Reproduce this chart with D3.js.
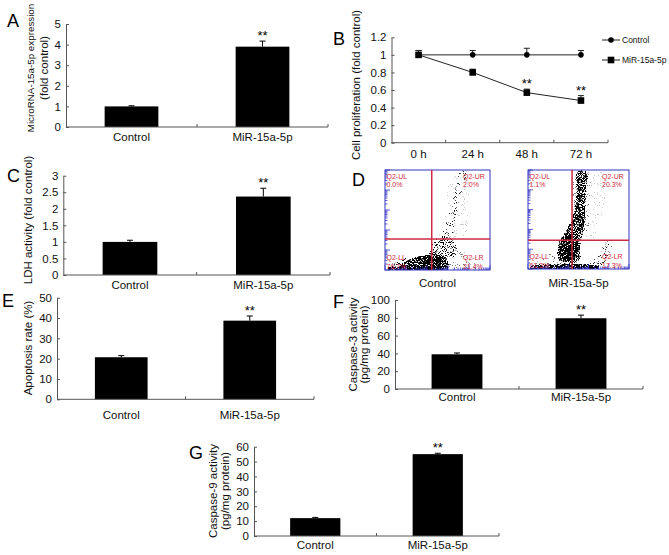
<!DOCTYPE html>
<html>
<head>
<meta charset="utf-8">
<script src="https://cdn.jsdelivr.net/npm/d3@7"></script>
<style>
  body { margin: 0; background: #fff; }
  svg { display: block; font-family: "Liberation Sans", Arial, Helvetica, sans-serif; }
</style>
</head>
<body>
<svg id="fig" width="669" height="555"></svg>
<script>
/*
*  DATA
*/
const groups = ['Control', 'MiR-15a-5p']
const sigBars = ['', '**']

const mirExpr = [1.0, 3.9], mirExprErr = [0.03, 0.27]
const ldh = [1.0, 2.37], ldhErr = [0.05, 0.25]
const apoptosis = [20.7, 38.7], apoptosisErr = [0.8, 2.3]
const casp3 = [39, 79.5], casp3Err = [1.5, 3.5]
const casp9 = [12, 55], casp9Err = [0.5, 0.6]

const timePoints = ['0 h', '24 h', '48 h', '72 h']
const prolifControl = [1, 1, 1, 1], prolifControlErr = [0.05, 0.05, 0.075, 0.05]
const prolifMiR = [1, 0.8, 0.57, 0.48], prolifMiRErr = [0.05, 0.037, 0.04, 0.056]
const sigProlif = ['', '', '**', '**']

const ticksA = [0, 1, 2, 3, 4, 5]
const ticksB = [0, 0.2, 0.4, 0.6, 0.8, 1, 1.2]
const ticksC = [0, 0.5, 1, 1.5, 2, 2.5, 3]
const ticksE = [0, 10, 20, 30, 40, 50]
const ticksF = [0, 20, 40, 60, 80, 100]
const ticksG = [0, 10, 20, 30, 40, 50, 60]

// flow cytometry: quadrant names, percentages, gate positions (fraction of plot), dot clouds
const quadNames = ['Q2-UL', 'Q2-UR', 'Q2-LL', 'Q2-LR']
const flowControlPct = ['0.0%', '2.0%', '76.7%', '21.4%']
const flowMiRPct = ['1.1%', '20.3%', '61.3%', '17.3%']
const flowGates = [[0.445, 0.31], [0.436, 0.29]]
const flowCloudsControl = [
  {a: 0.04, pts: [[0.52,0.25],[0.58,0.6],[0.63,0.95],[0.78,0.99],[0.8,0.6],[0.74,0.3]]},
  {a: 0.14, pts: [[0.53,0.28],[0.6,0.55],[0.67,0.8],[0.71,0.98],[0.77,0.98],[0.73,0.78],[0.67,0.52],[0.62,0.28]]},
  {a: 0.1, pts: [[0.6,0.02],[0.62,0.16],[0.72,0.2],[0.82,0.1],[0.88,0.02]]},
  {a: 0.35, pts: [[0.42,0.12],[0.46,0.28],[0.56,0.34],[0.65,0.3],[0.68,0.15]]},
  {a: 0.3, pts: [[0.03,0.02],[0.1,0.09],[0.22,0.12],[0.25,0.02]]},
  {a: 0.8, pts: [[0.14,0.02],[0.22,0.1],[0.35,0.14],[0.48,0.16],[0.58,0.12],[0.6,0.02]]},
  {a: 0.9, pts: [[0.3,0.02],[0.36,0.09],[0.48,0.11],[0.53,0.05],[0.5,0.01]]},
  {a: 0.7, pts: [[0.02,0],[0.6,0],[0.6,0.02],[0.02,0.02]]}
]
const flowCloudsMiR = [
  {a: 0.04, pts: [[0.55,0.35],[0.6,0.95],[0.76,0.97],[0.74,0.5],[0.64,0.3]]},
  {a: 0.18, pts: [[0.58,0.02],[0.66,0.1],[0.73,0.22],[0.8,0.3],[0.83,0.22],[0.77,0.08],[0.7,0.02]]},
  {a: 0.12, pts: [[0.05,0.02],[0.2,0.15],[0.3,0.1],[0.3,0.02]]},
  {a: 0.1, pts: [[0.42,0.35],[0.44,0.6],[0.46,0.98],[0.61,0.98],[0.6,0.6],[0.58,0.35]]},
  {a: 0.7, pts: [[0.31,0.08],[0.31,0.28],[0.38,0.39],[0.45,0.55],[0.48,0.75],[0.49,0.98],[0.58,0.98],[0.57,0.75],[0.565,0.55],[0.55,0.39],[0.52,0.28],[0.5,0.08]]},
  {a: 0.9, pts: [[0.33,0.12],[0.33,0.27],[0.4,0.34],[0.48,0.32],[0.49,0.18],[0.45,0.1]]},
  {a: 0.85, pts: [[0.02,0],[0.7,0],[0.7,0.025],[0.02,0.025]]}
]

// small helper so attribute objects can be set in one call
d3.selection.prototype.attrs = function(obj){
  for(let k in obj) this.attr(k, obj[k])
  return this
}

/*
*  RUN
*/
const svg = d3.select('#fig')
const axisColor = '#555'
const fmt = d3.format('~g')

// speckle texture for the cytometry clouds: density follows the cloud opacity
let speck = svg.append('defs').append('filter')
  .attrs({id: 'speck', 'color-interpolation-filters': 'sRGB', x: '-5%', y: '-5%', width: '110%', height: '110%'})
speck.append('feGaussianBlur').attrs({in: 'SourceAlpha', stdDeviation: 0.6, result: 'b'})
speck.append('feTurbulence').attrs({type: 'fractalNoise', baseFrequency: 1.1, numOctaves: 1, seed: 7, result: 'n'})
speck.append('feColorMatrix').attrs({in: 'n', type: 'matrix', values: '0 0 0 0 0  0 0 0 0 0  0 0 0 0 0  3 0 0 0 -1', result: 'na'})
speck.append('feComposite').attrs({in: 'b', in2: 'na', operator: 'arithmetic', k1: 0, k2: 5, k3: -5, k4: 0})

barPanel({x0: 66, x1: 328, y0: 127, yTop: 24, max: 5, ticks: ticksA, labelDy: 14,
  letter: 'A', lx: 7, ly: 27, ylab: [['MicroRNA-15a-5p expression', 31, 9.8], ['(fold control)', 44]], ylabY: 68},
  mirExpr, mirExprErr)
linePanel()
barPanel({x0: 63.3, x1: 330, y0: 275, yTop: 175.7, max: 3, ticks: ticksC, labelDy: 14,
  letter: 'C', lx: 7, ly: 182, ylab: [['LDH activity (fold control)', 28]], ylabY: 220},
  ldh, ldhErr)
svg.append('text').text('D').attrs({x: 352, y: 186, 'font-size': 18})
flowPlot({x0: 385, x1: 490, y0: 170, y1: 270, caption: 'Control'}, flowControlPct, flowGates[0], flowCloudsControl)
flowPlot({x0: 528, x1: 629, y0: 170, y1: 269, caption: 'MiR-15a-5p'}, flowMiRPct, flowGates[1], flowCloudsMiR)
barPanel({x0: 57, x1: 314, y0: 399.3, yTop: 297.7, max: 50, ticks: ticksE, labelDy: 20,
  letter: 'E', lx: 2, ly: 307, ylab: [['Apoptosis rate (%)', 28]], ylabY: 348},
  apoptosis, apoptosisErr)
barPanel({x0: 395, x1: 643, y0: 389, yTop: 300, max: 100, ticks: ticksF, labelDy: 12,
  letter: 'F', lx: 333, ly: 308, ylab: [['Caspase-3 activity', 352.5], ['(pg/mg protein)', 364]], ylabY: 344.5},
  casp3, casp3Err)
barPanel({x0: 254, x1: 499, y0: 536, yTop: 446.7, max: 60, ticks: ticksG, labelDy: 13,
  letter: 'G', lx: 189, ly: 459, ylab: [['Caspase-9 activity', 213], ['(pg/mg protein)', 225]], ylabY: 491},
  casp9, casp9Err)

/*
*  HELPERS
*/
function yAxis(g, y, x0, ticks){
  let ax = g.append('g').attr('transform', `translate(${x0},0)`)
    .call(d3.axisLeft(y).tickValues(ticks).tickSizeInner(-3).tickSizeOuter(0).tickPadding(5).tickFormat(fmt))
  ax.attr('font-family', null).attr('font-size', 11.5)
  ax.select('.domain').attr('stroke', axisColor)
  ax.selectAll('.tick line').attr('stroke', axisColor)
  ax.selectAll('text').attr('fill', '#111')
}

function xAxis(g, x, y0, labelDy){
  let [a, b] = x.range()
  g.append('line').attrs({x1: a, x2: b, y1: y0, y2: y0, stroke: axisColor})
  let bounds = x.domain().slice(1).map(d => x(d)).concat([b])
  g.selectAll(null).data(bounds).join('line')
    .attrs({x1: d => d, x2: d => d, y1: y0, y2: y0 - 3, stroke: axisColor})
  g.selectAll(null).data(x.domain()).join('text')
    .attrs({x: d => x(d) + x.bandwidth() / 2, y: y0 + labelDy, 'text-anchor': 'middle', 'font-size': 11.5, fill: '#111'})
    .text(d => d)
}

// lines: [text, centre x, optional font size]
function yLabel(g, lines, cy){
  lines.forEach(([t, cx, fs]) => {
    g.append('text').text(t).attrs({
      transform: `translate(${cx},${cy}) rotate(-90)`,
      'text-anchor': 'middle', dy: '0.35em', 'font-size': fs || 11.5, fill: '#111'
    })
  })
}

function barPanel(cfg, vals, errs){
  let g = svg.append('g')
  let x = d3.scaleBand().domain(groups).range([cfg.x0, cfg.x1])
  let y = d3.scaleLinear().domain([0, cfg.max]).range([cfg.y0, cfg.yTop])
  let bw = x.bandwidth() * 0.41
  let rows = groups.map((k, i) => ({k, v: vals[i], e: errs[i], s: sigBars[i]}))
  let cx = d => x(d.k) + x.bandwidth() / 2

  g.selectAll('rect').data(rows).join('rect').attrs({
    x: d => cx(d) - bw / 2, y: d => y(d.v), width: bw, height: d => y(0) - y(d.v), fill: '#000'
  })
  g.selectAll('line.err').data(rows).join('line').attrs({
    class: 'err', x1: cx, x2: cx, y1: d => y(d.v), y2: d => y(d.v + d.e), stroke: '#000'
  })
  g.selectAll('line.cap').data(rows).join('line').attrs({
    class: 'cap', x1: d => cx(d) - 3, x2: d => cx(d) + 3, y1: d => y(d.v + d.e), y2: d => y(d.v + d.e), stroke: '#000'
  })
  g.selectAll('text.sig').data(rows).join('text').attrs({
    class: 'sig', x: cx, y: d => y(d.v + d.e) - 1, 'text-anchor': 'middle', 'font-size': 13
  }).text(d => d.s)

  yAxis(g, y, cfg.x0, cfg.ticks)
  xAxis(g, x, cfg.y0, cfg.labelDy)
  yLabel(g, cfg.ylab, cfg.ylabY)
  g.append('text').text(cfg.letter).attrs({x: cfg.lx, y: cfg.ly, 'font-size': 18})
}

function linePanel(){
  let g = svg.append('g')
  let x = d3.scaleBand().domain(timePoints).range([391.5, 608])
  let y = d3.scaleLinear().domain([0, 1.2]).range([142.7, 37.3])
  let cx = d => x(d.t) + x.bandwidth() / 2
  let series = [
    {name: 'Control', vals: prolifControl, errs: prolifControlErr, sig: timePoints.map(() => ''), shape: 'circle'},
    {name: 'MiR-15a-5p', vals: prolifMiR, errs: prolifMiRErr, sig: sigProlif, shape: 'square'}
  ]
  let line = d3.line().x(cx).y(d => y(d.v))

  series.forEach(s => {
    let pts = timePoints.map((t, i) => ({t, v: s.vals[i], e: s.errs[i], s: s.sig[i]}))
    g.append('path').datum(pts).attrs({d: line, fill: 'none', stroke: '#222', 'stroke-width': 1})
    g.selectAll(null).data(pts).join('line').attrs({x1: cx, x2: cx, y1: d => y(d.v), y2: d => y(d.v + d.e), stroke: '#222'})
    g.selectAll(null).data(pts).join('line').attrs({
      x1: d => cx(d) - 3, x2: d => cx(d) + 3, y1: d => y(d.v + d.e), y2: d => y(d.v + d.e), stroke: '#222'
    })
    drawMarkers(g, pts, s.shape, cx, d => y(d.v))
    g.selectAll(null).data(pts).join('text').attrs({
      x: cx, y: d => y(d.v + d.e) - 1, 'text-anchor': 'middle', 'font-size': 13
    }).text(d => d.s)
  })

  yAxis(g, y, 391.5, ticksB)
  xAxis(g, x, 142.7, 15)
  yLabel(g, [['Cell proliferation (fold control)', 356]], 85)
  g.append('text').text('B').attrs({x: 333, y: 45, 'font-size': 18})

  // legend
  let lg = g.append('g').attr('transform', 'translate(602,40)')
  series.forEach((s, i) => {
    let row = lg.append('g').attr('transform', `translate(0,${i * 20})`)
    row.append('line').attrs({x1: 0, x2: 18, y1: 0, y2: 0, stroke: '#222'})
    drawMarkers(row, [{}], s.shape, () => 9, () => 0)
    row.append('text').text(s.name).attrs({x: 20, y: 3.2, 'font-size': 8.5, fill: '#111'})
  })
}

function drawMarkers(g, pts, shape, fx, fy){
  if(shape === 'circle'){
    g.selectAll(null).data(pts).join('circle').attrs({cx: fx, cy: fy, r: 2.8, fill: '#000'})
  } else {
    g.selectAll(null).data(pts).join('rect').attrs({
      x: d => fx(d) - 3.3, y: d => fy(d) - 3.3, width: 6.6, height: 6.6, fill: '#000'
    })
  }
}

function flowPlot(cfg, pct, gate, clouds){
  let g = svg.append('g')
  let fx = d3.scaleLinear().domain([0, 1]).range([cfg.x0, cfg.x1])
  let fy = d3.scaleLinear().domain([0, 1]).range([cfg.y1, cfg.y0])
  let clipId = 'clip' + cfg.x0
  g.append('clipPath').attr('id', clipId).append('rect').attrs({
    x: cfg.x0, y: cfg.y0, width: cfg.x1 - cfg.x0, height: cfg.y1 - cfg.y0
  })
  let area = d3.line().x(d => fx(d[0])).y(d => fy(d[1])).curve(d3.curveCatmullRomClosed)
  g.append('g').attr('clip-path', `url(#${clipId})`)
    .append('g').attr('filter', 'url(#speck)')
    .selectAll('path').data(clouds).join('path')
    .attrs({d: d => area(d.pts), fill: '#000', 'fill-opacity': d => d.a})

  // frame with log ticks on left and bottom
  let blue = '#3535c0'
  g.append('rect').attrs({
    x: cfg.x0, y: cfg.y0, width: cfg.x1 - cfg.x0, height: cfg.y1 - cfg.y0, fill: 'none', stroke: blue, 'stroke-width': 1
  })
  let ly = d3.scaleLog().domain([1, 1e5]).range([cfg.y1, cfg.y0])
  let lx = d3.scaleLog().domain([1, 1e5]).range([cfg.x0, cfg.x1])
  let major = d => Math.abs(Math.log10(d) - Math.round(Math.log10(d))) < 1e-9
  g.selectAll(null).data(ly.ticks()).join('line').attrs({
    x1: cfg.x0, x2: d => cfg.x0 + (major(d) ? 5 : 2.5), y1: ly, y2: ly, stroke: blue, 'stroke-width': 0.8
  })
  g.selectAll(null).data(lx.ticks()).join('line').attrs({
    x1: lx, x2: lx, y1: cfg.y1, y2: d => cfg.y1 - (major(d) ? 5 : 2.5), stroke: blue, 'stroke-width': 0.8
  })

  // quadrant gates
  let red = '#cc2a40'
  g.append('line').attrs({x1: fx(gate[0]), x2: fx(gate[0]), y1: cfg.y0, y2: cfg.y1, stroke: red, 'stroke-width': 1.5})
  g.append('line').attrs({x1: cfg.x0, x2: cfg.x1, y1: fy(gate[1]), y2: fy(gate[1]), stroke: red, 'stroke-width': 1.5})

  let pos = [
    [cfg.x0 + 1.5, cfg.y0 + 8.5], [cfg.x1 - 27, cfg.y0 + 8.5],
    [cfg.x0 + 1.5, cfg.y1 - 10], [cfg.x1 - 27, cfg.y1 - 10]
  ]
  quadNames.forEach((q, i) => {
    let t = g.append('text').attrs({x: pos[i][0], y: pos[i][1], 'font-size': 7, fill: red})
    t.append('tspan').text(q)
    t.append('tspan').attrs({x: pos[i][0], dy: 8.5}).text(pct[i])
  })
  g.append('text').text(cfg.caption).attrs({
    x: (cfg.x0 + cfg.x1) / 2, y: 287, 'text-anchor': 'middle', 'font-size': 11.5, fill: '#111'
  })
}
</script>
</body>
</html>
